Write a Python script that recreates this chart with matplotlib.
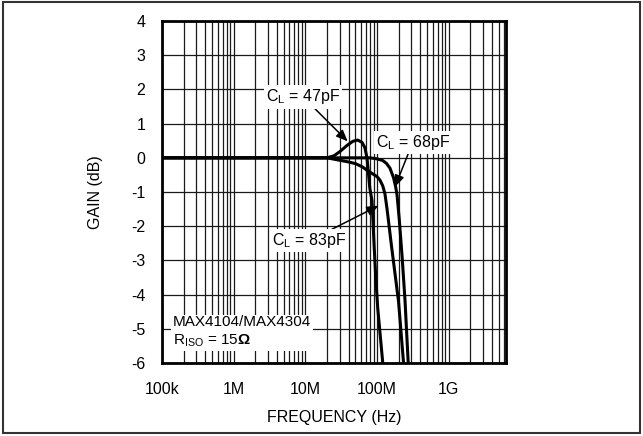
import matplotlib
matplotlib.use('Agg')
import matplotlib.pyplot as plt
import matplotlib.ticker as ticker
from matplotlib.patches import Rectangle
import numpy as np

plt.rcParams['font.family'] = ['Liberation Sans', 'DejaVu Sans']
plt.rcParams['mathtext.fontset'] = 'custom'
plt.rcParams['mathtext.rm'] = 'Liberation Sans'
plt.rcParams['mathtext.bf'] = 'Liberation Sans:bold'
plt.rcParams['axes.unicode_minus'] = False
FONTSIZE = 11.5
NOTESIZE = 11.5

# frequencies in MHz, gain in dB
f_47 = [0.1, 20, 25.1, 30.2, 38.0, 45.7, 53.7, 61.7, 67.6, 72.4, 75.9, 79.4,
        85.1, 91.2, 96.6, 102.3, 110.9, 120.2]
g_47 = [0.0, 0.0, 0.06, 0.18, 0.36, 0.48, 0.52, 0.45, 0.30, 0.0, -0.45, -0.90,
        -1.25, -2.60, -3.60, -4.40, -5.20, -6.00]

f_83 = [0.1, 20, 25.1, 31.6, 39.8, 50.1, 63.1, 70.8, 100, 109.6, 120.2, 128.8,
        138.0, 158.5, 199.5, 234.4]
g_83 = [0.0, 0.0, -0.04, -0.08, -0.12, -0.17, -0.27, -0.35, -0.55, -0.65, -0.82,
        -1.05, -1.50, -2.55, -4.20, -6.00]

f_68 = [0.1, 79.4, 100, 120.2, 134.9, 151.4, 169.8, 182.0, 190.5, 204.2, 223.9,
        245.5, 272.3]
g_68 = [0.0, 0.0, -0.03, -0.08, -0.16, -0.30, -0.58, -0.85, -1.10, -1.80, -2.90,
        -4.16, -6.00]

xticks = [1e5, 1e6, 1e7, 1e8, 1e9]
xticklabels = ['100k', '1M', '10M', '100M', '1G']
yticks = list(range(-6, 5))

fig = plt.figure(figsize=(6.43, 4.36), dpi=100)
ax = fig.add_axes([0.252, 0.1674, 0.535, 0.7844])

for f, g in [(f_47, g_47), (f_83, g_83), (f_68, g_68)]:
    ax.plot(np.array(f) * 1e6, g, color='black', lw=2.2, solid_capstyle='butt', zorder=3)

ax.set_xscale('log')
ax.set_xlim(1e5, 10 ** 9.8)
ax.set_ylim(-6, 4)
ax.set_xticks(xticks)
ax.set_xticklabels(xticklabels)
ax.xaxis.set_minor_locator(ticker.LogLocator(base=10, subs=np.arange(2, 10), numticks=20))
ax.xaxis.set_minor_formatter(ticker.NullFormatter())
ax.set_yticks(yticks)
ax.tick_params(which='both', length=0)
ax.tick_params(axis='y', pad=12, labelsize=FONTSIZE)
ax.tick_params(axis='x', pad=14, labelsize=FONTSIZE)
ax.grid(which='both', color='#1a1a1a', lw=0.9)
ax.set_axisbelow(True)
for s in ax.spines.values():
    s.set_linewidth(2)
ax.set_xlabel('FREQUENCY (Hz)', fontsize=FONTSIZE, labelpad=9)
ax.set_ylabel('GAIN (dB)', fontsize=FONTSIZE, labelpad=20)

box = dict(facecolor='white', edgecolor='none', pad=1.5)
arrow = dict(arrowstyle='-|>,head_length=0.6,head_width=0.25', color='black', lw=1.1,
             shrinkA=0, shrinkB=0)
ax.annotate(r'C$_\mathregular{L}$ = 47pF', xy=(3.9e7, 0.48), xytext=(9.3e6, 1.78),
            fontsize=NOTESIZE, ha='center', va='center', bbox=box, arrowprops=arrow, zorder=5)
ax.annotate(r'C$_\mathregular{L}$ = 68pF', xy=(1.78e8, -0.85), xytext=(3.16e8, 0.46),
            fontsize=NOTESIZE, ha='center', va='center', bbox=box, arrowprops=arrow, zorder=5)
ax.annotate(r'C$_\mathregular{L}$ = 83pF', xy=(1.05e8, -1.4), xytext=(1.12e7, -2.43),
            fontsize=NOTESIZE, ha='center', va='center', bbox=box, arrowprops=arrow, zorder=5)
ax.text(1.42e5, -5.1, 'MAX4104/MAX4304\n' + r'R$_\mathregular{ISO}$ = 15$\mathbf{\Omega}$',
        fontsize=11, ha='left', va='center', linespacing=1.25,
        bbox=dict(facecolor='white', edgecolor='none', pad=1.5), zorder=5)

fig.patches.append(Rectangle((0.004, 0.007), 0.992, 0.988, transform=fig.transFigure,
                             fill=False, edgecolor='#333333', lw=1.5))

fig.savefig('out.png', dpi=100)
